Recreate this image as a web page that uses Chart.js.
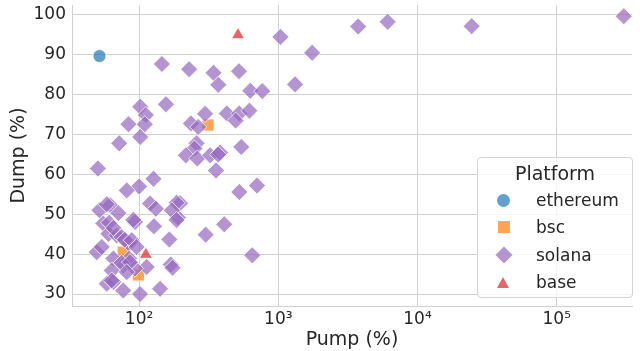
<!DOCTYPE html>
<html>
<head>
<meta charset="utf-8">
<script src="https://cdn.jsdelivr.net/npm/chart.js@4.4.1/dist/chart.umd.min.js"></script>
<style>
  body { margin: 0; background: #fff; }
  #wrap { position: relative; width: 640px; height: 351px; font-family: "DejaVu Sans", sans-serif; color: #262626; }
  #legend { position: absolute; left: 477px; top: 157px; width: 154px; height: 139px;
    border: 1px solid #d4d4d4; border-radius: 4px; background: rgba(255,255,255,0.8); }
  #legend .title { position: absolute; left: 0; width: 100%; top: 1px; text-align: center; font-size: 19px; line-height: 28px; }
  #legend .row { position: absolute; left: 0; width: 100%; height: 26px; font-size: 17px; line-height: 26px; }
  #legend .row span { position: absolute; left: 58px; }
  #legend .mk { position: absolute; }
</style>
</head>
<body>
<div id="wrap">
  <canvas id="chart" width="640" height="351"></canvas>
  <div id="legend"></div>
</div>
<script>
const platforms = ['ethereum', 'bsc', 'solana', 'base']
const colors = ['rgba(31,119,180,0.7)', 'rgba(255,127,14,0.7)', 'rgba(148,103,189,0.7)', 'rgba(214,39,40,0.7)']

const ethereumPump = [52]
const ethereumDump = [89.7]

const bscPump = [313, 77, 99]
const bscDump = [72.4, 40.5, 34.8]

const basePump = [514, 112]
const baseDump = [95, 39.9]

const solanaPump = [
  303000, 24500, 6100, 3750, 1035, 1750, 1320, 146, 229, 343,
  371, 522, 630, 767, 102, 112, 156, 84, 110, 102,
  72, 236, 266, 298, 427, 525, 494, 620, 259, 250,
  217, 262, 324, 381, 370, 542, 357, 197, 190, 525,
  703, 301, 409, 650, 50.6, 127, 100, 81.6, 52, 62,
  58.6, 71, 55.4, 61, 93.6, 91, 120, 132, 128, 165,
  186, 172, 186, 60.3, 69.1, 75, 85, 49.7, 54, 65.4,
  85, 77, 113.5, 93.6, 63.7, 58.6, 65.4, 77, 101.7, 141.6,
  169, 174, 65.4, 79, 88.6, 96, 75, 86, 81.6, 63.6
]
const solanaDump = [
  99.7, 97.2, 98.3, 97.1, 94.5, 90.5, 82.6, 87.7, 86.4, 85.5,
  82.5, 85.9, 81, 80.9, 77, 74.9, 77.6, 72.6, 72.6, 69.4,
  67.8, 72.8, 71.9, 75.2, 75.3, 75.3, 73.5, 76, 67.8, 66.5,
  64.8, 64, 64.8, 65.5, 65, 66.9, 61, 52.8, 49.2, 55.6,
  57.2, 44.9, 47.5, 39.7, 61.5, 58.9, 57, 56, 51, 52.3,
  52.5, 50.3, 47.7, 47.9, 48.1, 48.6, 52.7, 51.4, 47, 43.7,
  52.9, 51, 48.6, 45.1, 44.7, 44.3, 42.6, 40.5, 41.8, 38.9,
  38.9, 37.2, 36.8, 36.4, 35.9, 32.6, 33, 30.9, 30, 31.3,
  37.4, 36.6, 46.6, 43.6, 43.5, 41.8, 37.8, 38, 35.5, 33.4
]

const xTicks = [100, 1000, 10000, 100000]
const xTickLabels = ['10²', '10³', '10⁴', '10⁵']
const yTicks = [30, 40, 50, 60, 70, 80, 90, 100]

function points (xs, ys) {
  return xs.map((x, i) => ({ x: x, y: ys[i] }))
}

const styles = [
  { pointStyle: 'circle', radius: 6.5, order: 1 },
  { pointStyle: 'rect', radius: 8.5, order: 3 },
  { pointStyle: 'rectRot', radius: 8.5, order: 2 },
  { pointStyle: 'triangle', radius: 7.5, order: 0 }
]
const allData = [
  points(ethereumPump, ethereumDump),
  points(bscPump, bscDump),
  points(solanaPump, solanaDump),
  points(basePump, baseDump)
]

Chart.defaults.font.family = '"DejaVu Sans", sans-serif'
Chart.defaults.color = '#262626'

const gridColor = '#d0d0d0'

new Chart(document.getElementById('chart'), {
  type: 'scatter',
  data: {
    datasets: platforms.map((name, i) => ({
      label: name,
      data: allData[i],
      backgroundColor: colors[i],
      borderColor: 'rgba(255,255,255,0.75)',
      borderWidth: 1,
      pointStyle: styles[i].pointStyle,
      pointRadius: styles[i].radius,
      order: styles[i].order
    }))
  },
  options: {
    responsive: false,
    animation: false,
    devicePixelRatio: 1,
    layout: { autoPadding: false, padding: { top: 5, right: 8, left: 0, bottom: 0 } },
    plugins: { legend: { display: false }, tooltip: { enabled: false } },
    scales: {
      x: {
        type: 'logarithmic',
        min: 33,
        max: 347000,
        afterBuildTicks: (scale) => { scale.ticks = xTicks.map(v => ({ value: v })) },
        afterFit: (scale) => {
          scale.height = 45
          scale.paddingLeft = 0
          scale.paddingRight = 0
        },
        ticks: {
          autoSkip: false,
          maxRotation: 0,
          padding: 3,
          font: { size: 17 },
          callback: (v) => xTickLabels[xTicks.indexOf(v)]
        },
        grid: { color: gridColor, drawTicks: false },
        border: { color: gridColor, width: 1 },
        title: { display: true, text: 'Pump (%)', font: { size: 19 }, padding: { top: 0, bottom: 0 } }
      },
      y: {
        min: 27,
        max: 102.5,
        afterBuildTicks: (scale) => { scale.ticks = yTicks.map(v => ({ value: v })) },
        afterFit: (scale) => {
          scale.width = 72
          scale.paddingTop = 0
          scale.paddingBottom = 0
        },
        ticks: { padding: 6, font: { size: 17 } },
        grid: { color: gridColor, drawTicks: false },
        border: { color: gridColor, width: 1 },
        title: { display: true, text: 'Dump (%)', font: { size: 19 }, padding: { top: 8, bottom: 0 } }
      }
    }
  }
})

// legend box in the lower right, like the seaborn one
const legend = document.getElementById('legend')
legend.innerHTML = '<div class="title">Platform</div>'
const rowTops = [29, 56, 84, 111]
const markerCss = [
  'width:13px;height:13px;border-radius:50%;left:19px;top:6.5px;',
  'width:12px;height:12px;left:19.5px;top:7px;',
  'width:12px;height:12px;left:19.5px;top:7px;transform:rotate(45deg);',
  'width:0;height:0;left:19px;top:8px;border-left:6.5px solid transparent;border-right:6.5px solid transparent;'
]
platforms.forEach((name, i) => {
  const row = document.createElement('div')
  row.className = 'row'
  row.style.top = rowTops[i] + 'px'
  let css = markerCss[i]
  if (i === 3) css += 'border-bottom:11px solid ' + colors[i] + ';'
  else css += 'background:' + colors[i] + ';'
  row.innerHTML = `<div class="mk" style="${css}"></div><span>${name}</span>`
  legend.appendChild(row)
})
</script>
</body>
</html>
